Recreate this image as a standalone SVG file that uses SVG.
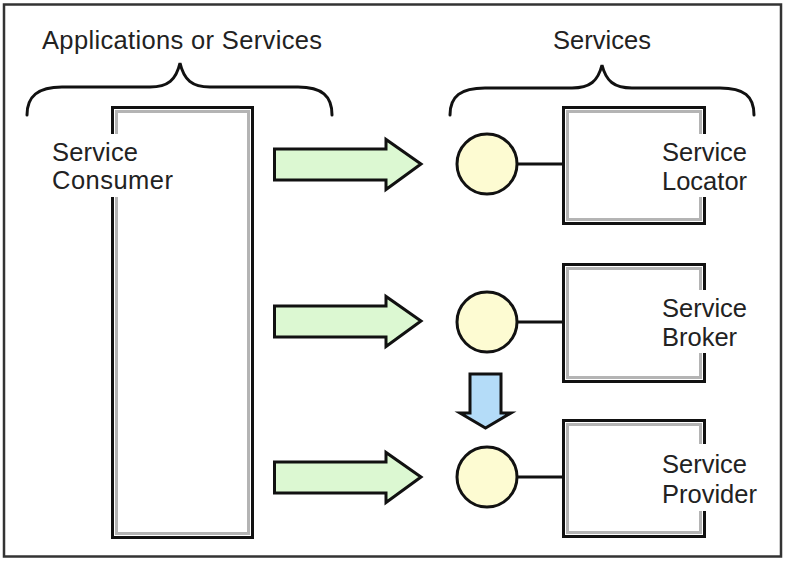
<svg xmlns="http://www.w3.org/2000/svg" width="788" height="563" viewBox="0 0 788 563">
<defs>
<style>
.t{font-family:"Liberation Sans",Arial,sans-serif;font-size:25.5px;fill:#222}
.ob{fill:none;stroke:#111;stroke-width:3}
.ib{fill:none;stroke:#b4b4b4;stroke-width:3}
.bg{fill:#fff}
.brace{fill:none;stroke:#111;stroke-width:3;stroke-linecap:round}
.circ{fill:#fdfbd2;stroke:#111;stroke-width:3}
.link{stroke:#111;stroke-width:3}
.garrow{fill:#dcf8d2;stroke:#111;stroke-width:3;stroke-linejoin:miter}
.barrow{fill:#b4dcf8;stroke:#111;stroke-width:3}
</style>
</defs>
<rect x="0" y="0" width="788" height="563" fill="#fff"/>
<rect x="4" y="4.5" width="777" height="552" fill="none" stroke="#333" stroke-width="2.5"/>

<g id="label-apps">
<text class="t" x="42" y="49" textLength="280" lengthAdjust="spacing">Applications or Services</text>
<path class="brace" d="M27,115 C27,96 38,87 62,87 L150,87 C168,87 176,80 180,63 C184,80 192,87 210,87 L298,87 C322,87 332,96 332,115"/>
</g>
<g id="label-services">
<text class="t" x="602" y="49" text-anchor="middle">Services</text>
<path class="brace" d="M450,115 C450,96 461,88 485,88 L572,88 C590,88 598,81 602,65 C606,81 614,88 632,88 L720,88 C744,88 754,96 754,115"/>
</g>

<g id="consumer">
<rect class="ob" x="112.5" y="107.5" width="140" height="430"/>
<rect class="ib" x="116.5" y="111.5" width="132" height="422"/>
<rect class="bg" x="48" y="134" width="130" height="63"/>
<text class="t" x="52" y="161" textLength="86" lengthAdjust="spacing">Service</text>
<text class="t" x="52" y="189" textLength="121" lengthAdjust="spacing">Consumer</text>
</g>

<g id="locator">
<circle class="circ" cx="487" cy="164" r="30"/>
<rect class="ob" x="563.5" y="107.5" width="141" height="116"/>
<rect class="ib" x="567.5" y="111.5" width="133" height="108"/>
<rect class="bg" x="656" y="134" width="98" height="63"/>
<text class="t" x="662" y="161">Service</text>
<text class="t" x="662" y="190">Locator</text>
</g>

<g id="broker">
<circle class="circ" cx="487" cy="322" r="30"/>
<rect class="ob" x="563.5" y="264.5" width="141" height="117"/>
<rect class="ib" x="567.5" y="268.5" width="133" height="109"/>
<rect class="bg" x="656" y="290" width="98" height="63"/>
<text class="t" x="662" y="317">Service</text>
<text class="t" x="662" y="346">Broker</text>
</g>

<g id="provider">
<circle class="circ" cx="487" cy="477" r="30"/>
<rect class="ob" x="563.5" y="420.5" width="141" height="116"/>
<rect class="ib" x="567.5" y="424.5" width="133" height="108"/>
<rect class="bg" x="656" y="444" width="98" height="67"/>
<text class="t" x="662" y="473">Service</text>
<text class="t" x="662" y="503">Provider</text>
</g>

<g id="connectors">
<line class="link" x1="517" y1="164" x2="563" y2="164"/>
<line class="link" x1="517" y1="322" x2="563" y2="322"/>
<line class="link" x1="517" y1="477" x2="563" y2="477"/>
<path class="garrow" d="M274.5,149 L386,149 L386,139.5 L421,164 L386,189.5 L386,180 L274.5,180 Z"/>
<path class="garrow" d="M274.5,306 L386,306 L386,296.5 L421,321 L386,346.5 L386,337 L274.5,337 Z"/>
<path class="garrow" d="M274.5,462 L386,462 L386,452.5 L421,477 L386,502.5 L386,493 L274.5,493 Z"/>
<path class="barrow" d="M470,374 L501,374 L501,413 L511,413 L485.5,428 L460,413 L470,413 Z"/>
</g>
</svg>
